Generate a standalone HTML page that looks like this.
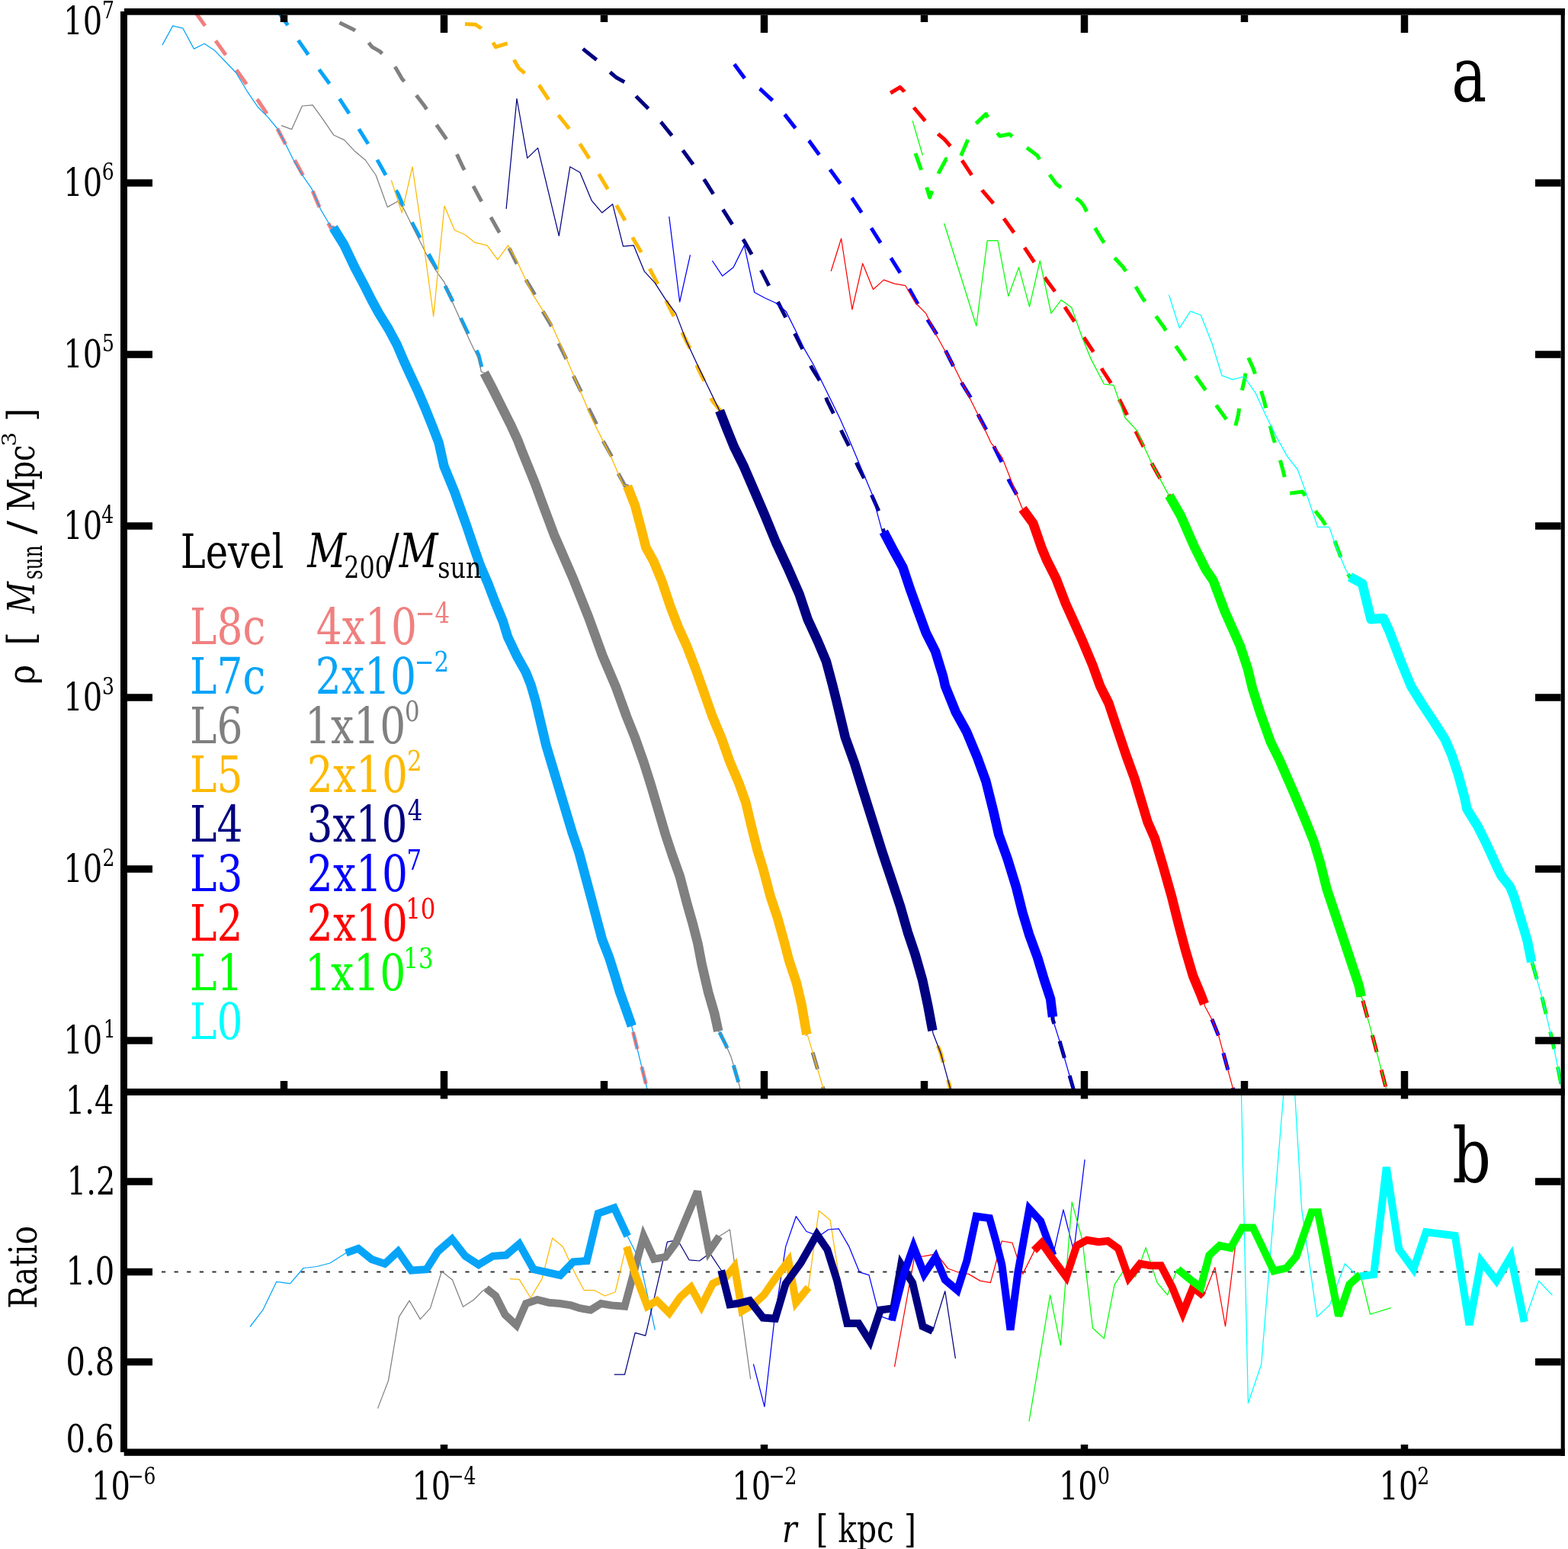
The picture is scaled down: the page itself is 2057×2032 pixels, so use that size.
<!DOCTYPE html><html><head><meta charset="utf-8"><style>html,body{margin:0;padding:0;background:#fff}svg{display:block}</style></head><body><svg width="2057" height="2032" viewBox="0 0 2057 2032">
<rect width="2057" height="2032" fill="#fff"/>
<defs><clipPath id="ca"><rect x="162" y="15" width="1888" height="1417"/></clipPath><clipPath id="cb"><rect x="162" y="1432" width="1888" height="473"/></clipPath></defs>
<g clip-path="url(#ca)" stroke-linejoin="round">
<polyline points="252.8,11.0 283.3,54.0 311.0,93.0 338.6,132.0 352.0,152.0 364.0,169.0 375.0,190.0 386.0,209.0 398.0,231.0 409.0,248.0 420.0,274.0 434.0,299.0 437.3,298.6 451.4,321.4 465.6,351.3 478.1,374.9 487.6,393.7 497.0,411.0 509.6,431.4 520.6,451.9 530.0,473.9 539.4,494.3 548.9,514.7 558.3,536.7 567.7,560.3 575.6,580.7 582.4,611.4 596.6,646.0 606.0,672.7 612.2,690.0 620.6,715.0 630.0,742.0 640.0,765.0 649.5,790.0 659.8,815.0 666.0,835.4 678.0,860.6 689.7,881.5 696.4,898.3 702.7,920.0 711.8,958.3 716.4,977.7 727.7,1015.4 739.0,1053.1 750.3,1090.9 759.8,1119.1 767.3,1147.4 774.9,1175.7 782.4,1204.0 789.9,1232.3 799.4,1256.8 806.5,1279.4 813.1,1301.4 821.4,1324.6 828.9,1346.0" fill="none" stroke="#F08080" stroke-width="5" stroke-dasharray="23 24" stroke-dashoffset="-5"/>
<polyline points="828.9,1346.0 828.9,1347.0 848.7,1427.3 851.0,1445.0" fill="none" stroke="#F08080" stroke-width="5" stroke-dasharray="23 24" stroke-dashoffset="39.0"/>
<polyline points="362.2,11.0 405.2,72.9 432.9,110.6 459.3,150.9 484.4,191.1 507.0,231.3 522.1,254.0 529.7,271.6 552.3,314.3 575.0,357.0 595.0,397.3 615.2,440.0 627.7,465.0 632.0,482.0 635.3,489.0 646.3,510.0 658.9,535.2 669.9,557.2 679.3,577.6 684.0,590.0 701.7,633.6 711.8,661.2 726.9,701.4 752.0,759.3 772.1,809.6 790.4,860.0 808.0,901.4 822.0,940.0 833.3,968.3 844.6,1000.3 854.1,1030.5 863.5,1062.6 872.9,1094.6 882.3,1122.9 891.8,1149.3 901.2,1185.1 908.7,1211.5 915.5,1238.0 920.5,1264.3 929.1,1301.4 937.3,1329.6 942.3,1352.8" fill="none" stroke="#06A4F8" stroke-width="5" stroke-dasharray="23 24" stroke-dashoffset="-4"/>
<polyline points="942.3,1352.8 944.0,1354.4 952.3,1371.0 958.9,1385.9 970.5,1425.6 973.0,1445.0" fill="none" stroke="#06A4F8" stroke-width="5" stroke-dasharray="23 24" stroke-dashoffset="44.7"/>
<polyline points="445.4,29.7 464.3,39.0 481.9,54.0 488.2,61.6 498.3,67.4 517.1,85.5 527.2,103.1 544.8,123.2 557.3,139.6 572.4,163.4 583.8,179.8 598.8,201.2 607.6,220.0 620.2,242.6 630.2,261.5 642.7,282.9 654.0,303.0 666.6,323.0 676.7,343.2 689.3,365.9 700.6,384.7 710.6,406.0 722.0,425.0 732.0,448.8 742.0,469.0 752.0,492.7 762.0,512.9 772.1,535.5 782.2,555.6 791.0,578.2 802.3,598.4 811.1,621.0 819.9,637.3 823.1,637.7 833.0,663.0 841.8,696.0 847.3,718.0 857.2,735.7 868.2,762.1 879.2,795.1 890.2,823.7 901.2,847.9 912.2,876.5 923.2,907.3 934.6,940.0 946.5,968.3 957.8,1000.3 969.1,1026.7 978.5,1053.1 986.0,1085.2 993.6,1115.4 1001.1,1139.9 1010.6,1175.7 1020.0,1204.0 1029.4,1237.9 1035.1,1260.0 1045.0,1289.8 1051.6,1318.0 1058.3,1357.0" fill="none" stroke="#808080" stroke-width="5" stroke-dasharray="23 24" stroke-dashoffset="0"/>
<polyline points="1058.3,1357.0 1059.9,1359.4 1079.8,1427.3 1083.0,1445.0" fill="none" stroke="#808080" stroke-width="5" stroke-dasharray="23 24" stroke-dashoffset="22.1"/>
<polyline points="610.0,31.4 624.0,32.2 631.4,37.2 646.5,55.3 650.3,61.6 666.6,56.6 675.4,80.5 680.5,89.3 689.3,96.8 708.0,113.0 720.7,132.0 733.3,152.0 748.4,171.0 762.2,191.0 773.5,208.7 787.3,231.3 798.6,250.2 810.0,271.6 821.3,291.7 831.3,314.3 842.6,333.2 854.0,355.8 864.0,374.7 875.3,397.3 885.4,417.4 896.7,440.0 905.5,457.6 915.4,482.7 925.4,502.8 934.2,525.4 945.5,539.3 944.1,538.7 954.0,564.0 962.9,586.0 976.0,612.4 989.3,643.2 1002.5,674.0 1017.9,711.5 1033.3,744.5 1048.7,779.7 1059.7,812.7 1072.9,841.3 1083.9,867.7 1092.0,898.0 1097.5,920.0 1108.9,967.5 1121.0,1001.2 1133.0,1039.8 1145.1,1078.3 1157.1,1116.9 1169.2,1153.0 1181.2,1189.2 1190.8,1222.9 1200.5,1251.8 1210.1,1285.5 1217.3,1319.3 1223.4,1352.0" fill="none" stroke="#FDB900" stroke-width="5" stroke-dasharray="23 24" stroke-dashoffset="0"/>
<polyline points="1223.4,1352.0 1224.0,1355.4 1233.9,1380.9 1246.6,1427.6 1249.0,1445.0" fill="none" stroke="#FDB900" stroke-width="5" stroke-dasharray="23 24" stroke-dashoffset="25.9"/>
<polyline points="764.7,64.1 783.6,79.2 801.2,95.5 808.7,101.8 820.0,108.1 835.1,127.0 851.4,143.3 867.8,161.0 882.9,179.8 896.7,198.6 910.5,217.5 924.4,236.4 937.0,256.5 949.5,276.6 962.1,296.7 975.9,315.6 987.2,335.7 999.8,357.0 1009.9,377.2 1022.4,399.8 1032.5,419.9 1043.8,440.0 1053.9,460.2 1065.0,482.7 1077.6,502.8 1085.0,525.4 1095.0,545.5 1105.2,568.2 1115.3,588.3 1125.3,611.0 1135.4,631.0 1145.4,653.7 1154.3,673.8 1159.3,697.7 1159.3,697.7 1171.9,721.6 1184.4,744.2 1194.5,774.4 1204.5,802.0 1214.6,829.7 1227.2,854.8 1237.2,887.5 1240.0,900.0 1253.7,933.9 1267.8,959.4 1282.0,993.4 1293.3,1024.5 1303.2,1064.1 1310.3,1095.2 1321.6,1126.3 1332.9,1163.1 1341.4,1197.0 1349.9,1225.3 1361.2,1256.4 1369.7,1284.7 1378.1,1310.2 1381.0,1334.0" fill="none" stroke="#000080" stroke-width="5" stroke-dasharray="23 24" stroke-dashoffset="0"/>
<polyline points="1381.0,1334.0 1381.0,1337.0 1389.5,1363.9 1407.9,1427.6 1411.0,1445.0" fill="none" stroke="#000080" stroke-width="5" stroke-dasharray="23 24" stroke-dashoffset="13.8"/>
<polyline points="963.3,84.2 977.2,103.1 997.3,116.9 1013.6,132.0 1030.0,150.9 1043.8,168.5 1061.4,184.8 1075.2,203.7 1089.0,222.5 1102.8,241.4 1117.9,260.2 1130.5,279.1 1143.0,299.2 1155.6,319.3 1169.4,339.5 1182.0,359.6 1193.3,379.7 1204.6,399.8 1217.2,419.9 1229.8,440.0 1241.0,461.0 1251.0,481.0 1262.0,503.0 1275.0,524.0 1284.0,545.5 1295.0,566.0 1305.0,588.0 1315.0,608.0 1324.0,631.0 1335.0,651.0 1341.5,667.5 1341.5,667.5 1355.3,686.4 1366.6,719.0 1372.9,734.1 1385.5,759.3 1398.1,792.0 1410.6,819.6 1420.7,842.3 1433.3,872.4 1443.2,900.0 1454.5,922.6 1465.8,956.6 1477.2,990.5 1488.5,1021.6 1497.0,1049.9 1505.5,1078.2 1515.0,1100.0 1526.0,1137.0 1537.0,1176.0 1546.0,1212.0 1555.0,1246.0 1565.0,1280.0 1575.0,1304.0 1580.0,1317.0" fill="none" stroke="#0000FF" stroke-width="5" stroke-dasharray="23 24" stroke-dashoffset="0"/>
<polyline points="1580.0,1317.0 1580.6,1320.0 1590.5,1338.5 1599.0,1359.7 1617.4,1427.6 1620.0,1445.0" fill="none" stroke="#0000FF" stroke-width="5" stroke-dasharray="23 24" stroke-dashoffset="24.6"/>
<polyline points="1168.2,122.0 1180.8,114.4 1185.8,119.4 1199.6,142.0 1214.7,159.7 1231.0,176.0 1238.6,182.3 1247.4,192.4 1262.5,211.2 1275.0,230.0 1288.9,250.2 1304.0,267.8 1317.8,287.9 1330.4,305.5 1345.4,326.9 1358.0,345.7 1371.9,365.9 1385.7,384.7 1398.2,404.8 1410.8,423.7 1423.4,445.0 1436.0,464.0 1446.0,485.0 1458.4,504.0 1469.7,526.7 1479.8,546.8 1491.1,568.2 1501.2,588.3 1512.5,610.9 1523.8,631.0 1533.8,650.0 1533.8,650.0 1548.9,676.3 1566.5,716.5 1581.6,746.7 1591.7,761.8 1606.8,802.0 1626.9,847.3 1636.9,877.5 1643.0,903.0 1652.8,933.9 1666.9,973.5 1678.2,996.2 1698.0,1041.4 1712.2,1075.4 1723.5,1103.7 1732.0,1132.0 1740.5,1165.9 1749.0,1191.4 1760.3,1225.3 1771.6,1259.3 1782.9,1293.2 1785.7,1307.4" fill="none" stroke="#FF0000" stroke-width="5" stroke-dasharray="23 24" stroke-dashoffset="0"/>
<polyline points="1785.7,1307.4 1787.2,1310.2 1802.7,1366.8 1818.3,1427.6 1821.0,1445.0" fill="none" stroke="#FF0000" stroke-width="5" stroke-dasharray="23 24" stroke-dashoffset="41.4"/>
<polyline points="1200.9,201.2 1208.4,222.5 1219.7,259.0 1231.0,227.6 1241.1,208.7 1250.0,214.0 1258.7,208.7 1267.5,188.6 1276.3,166.0 1293.4,149.6 1306.5,172.2 1311.5,178.5 1324.1,176.0 1341.7,189.8 1360.5,203.7 1373.1,223.8 1385.7,241.4 1407.0,256.5 1417.1,264.0 1422.1,270.3 1433.5,294.2 1444.8,313.0 1458.6,334.4 1473.7,350.8 1487.5,372.1 1498.8,391.0 1513.9,411.1 1526.5,428.7 1539.7,450.0 1552.3,468.4 1565.0,488.0 1577.7,506.3 1592.9,528.0 1605.5,545.5 1619.3,564.4 1624.4,544.3 1628.1,517.9 1633.2,495.3 1637.0,467.6 1643.2,481.4 1652.0,505.3 1658.3,525.4 1664.6,551.8 1669.6,572.0 1677.2,595.8 1683.5,618.5 1690.2,647.4 1708.6,644.9 1722.4,666.2 1735.0,682.6 1748.8,704.0 1756.4,724.0 1765.2,748.0 1770.8,756.8 1770.8,756.8 1787.1,765.6 1796.0,802.1 1798.5,812.2 1814.8,810.9 1822.3,827.3 1838.7,870.0 1851.0,900.0 1865.0,922.6 1881.9,948.1 1896.1,970.7 1904.5,990.5 1913.0,1016.0 1921.5,1047.1 1924.4,1061.2 1938.5,1083.9 1949.8,1106.5 1964.0,1137.6 1969.6,1148.9 1980.9,1163.1 1986.6,1177.2 1995.1,1205.5 2003.6,1233.8 2009.2,1262.1" fill="none" stroke="#00FF00" stroke-width="5" stroke-dasharray="23 24" stroke-dashoffset="0"/>
<polyline points="2009.2,1262.1 2010.6,1264.9 2023.4,1310.2 2037.5,1369.6 2048.8,1426.2 2051.0,1440.0" fill="none" stroke="#00FF00" stroke-width="5" stroke-dasharray="23 24" stroke-dashoffset="46.2"/>
<polyline points="212.9,59.1 226.7,33.9 240.0,37.2 254.4,64.1 268.2,57.3 282.0,66.6 295.8,81.0 309.7,95.5 324.8,120.7 338.6,140.8 351.2,153.4 363.7,168.5 375.0,189.8 385.1,210.0 397.7,231.3 409.0,247.7 420.3,274.1 433.6,296.7 437.3,298.6 451.4,321.4 465.6,351.3 478.1,374.9 487.6,393.7 497.0,411.0 509.6,431.4 520.6,451.9 530.0,473.9 539.4,494.3 548.9,514.7 558.3,536.7 567.7,560.3 575.6,580.7 582.4,611.4 596.6,646.0 606.0,672.7 612.2,690.0 620.6,715.0 630.0,742.0 640.0,765.0 649.5,790.0 659.8,815.0 666.0,835.4 678.0,860.6 689.7,881.5 696.4,898.3 702.7,920.0 711.8,958.3 716.4,977.7 727.7,1015.4 739.0,1053.1 750.3,1090.9 759.8,1119.1 767.3,1147.4 774.9,1175.7 782.4,1204.0 789.9,1232.3 799.4,1256.8 806.5,1279.4 813.1,1301.4 821.4,1324.6 828.9,1346.0 828.9,1347.0 848.7,1427.3 851.0,1445.0" fill="none" stroke="#06A4F8" stroke-width="1.25" />
<polyline points="368.8,164.7 382.6,169.7 396.4,139.0 410.2,137.8 424.1,157.2 437.9,177.3 451.7,183.6 465.6,198.6 479.4,210.0 493.2,230.0 508.3,271.6 522.1,264.0 529.7,274.0 547.3,309.3 562.4,339.5 575.0,359.6 582.5,369.6 595.0,399.8 607.6,427.5 617.7,450.0 627.7,470.2 631.3,487.7 635.3,489.0 646.3,510.0 658.9,535.2 669.9,557.2 679.3,577.6 684.0,590.0 701.7,633.6 711.8,661.2 726.9,701.4 752.0,759.3 772.1,809.6 790.4,860.0 808.0,901.4 822.0,940.0 833.3,968.3 844.6,1000.3 854.1,1030.5 863.5,1062.6 872.9,1094.6 882.3,1122.9 891.8,1149.3 901.2,1185.1 908.7,1211.5 915.5,1238.0 920.5,1264.3 929.1,1301.4 937.3,1329.6 942.3,1352.8 944.0,1354.4 952.3,1371.0 958.9,1385.9 970.5,1425.6 973.0,1445.0" fill="none" stroke="#808080" stroke-width="1.25" />
<polyline points="513.3,236.4 527.2,279.1 541.0,218.8 556.1,321.9 568.7,414.9 583.0,270.3 596.3,301.7 610.2,308.0 622.7,318.1 639.0,321.9 652.8,340.7 666.6,321.9 678.0,342.0 698.0,384.7 710.6,404.8 723.2,425.0 734.0,449.0 777.2,550.6 802.3,600.9 817.4,636.0 823.1,637.7 833.0,663.0 841.8,696.0 847.3,718.0 857.2,735.7 868.2,762.1 879.2,795.1 890.2,823.7 901.2,847.9 912.2,876.5 923.2,907.3 934.6,940.0 946.5,968.3 957.8,1000.3 969.1,1026.7 978.5,1053.1 986.0,1085.2 993.6,1115.4 1001.1,1139.9 1010.6,1175.7 1020.0,1204.0 1029.4,1237.9 1035.1,1260.0 1045.0,1289.8 1051.6,1318.0 1058.3,1357.0 1059.9,1359.4 1079.8,1427.3 1083.0,1445.0" fill="none" stroke="#FDB900" stroke-width="1.25" />
<polyline points="664.1,274.0 678.0,129.5 691.8,207.4 705.6,194.1 733.3,309.3 747.8,218.8 760.9,226.3 776.0,262.8 789.8,279.1 803.7,267.8 817.5,323.1 831.3,321.9 845.2,355.8 859.0,370.9 872.8,392.3 886.6,411.1 900.5,447.6 915.6,480.0 943.0,536.7 944.1,538.7 954.0,564.0 962.9,586.0 976.0,612.4 989.3,643.2 1002.5,674.0 1017.9,711.5 1033.3,744.5 1048.7,779.7 1059.7,812.7 1072.9,841.3 1083.9,867.7 1092.0,898.0 1097.5,920.0 1108.9,967.5 1121.0,1001.2 1133.0,1039.8 1145.1,1078.3 1157.1,1116.9 1169.2,1153.0 1181.2,1189.2 1190.8,1222.9 1200.5,1251.8 1210.1,1285.5 1217.3,1319.3 1223.4,1352.0 1224.0,1355.4 1233.9,1380.9 1246.6,1427.6 1249.0,1445.0" fill="none" stroke="#000080" stroke-width="1.25" />
<polyline points="877.8,284.1 891.7,396.0 905.5,334.4" fill="none" stroke="#0000FF" stroke-width="1.25" />
<polyline points="934.4,342.0 947.8,362.1 962.1,350.8 976.4,321.9 989.7,383.5 1003.6,391.0 1017.4,397.3 1031.2,408.6 1045.0,436.3 1055.1,457.6 1067.0,478.0 1101.4,548.0 1111.5,570.7 1144.2,648.6 1156.8,695.2 1159.3,697.7 1171.9,721.6 1184.4,744.2 1194.5,774.4 1204.5,802.0 1214.6,829.7 1227.2,854.8 1237.2,887.5 1240.0,900.0 1253.7,933.9 1267.8,959.4 1282.0,993.4 1293.3,1024.5 1303.2,1064.1 1310.3,1095.2 1321.6,1126.3 1332.9,1163.1 1341.4,1197.0 1349.9,1225.3 1361.2,1256.4 1369.7,1284.7 1378.1,1310.2 1381.0,1334.0 1381.0,1337.0 1389.5,1363.9 1407.9,1427.6 1411.0,1445.0" fill="none" stroke="#0000FF" stroke-width="1.25" />
<polyline points="1090.2,355.8 1103.6,313.0 1117.9,406.0 1131.7,345.7 1145.5,379.7 1159.4,367.1 1173.2,372.1 1187.8,374.7 1200.9,397.3 1214.7,411.1 1228.5,440.0 1241.1,462.7 1251.2,480.0 1282.5,543.0 1300.0,580.8 1310.0,593.3 1315.0,600.9 1340.2,665.0 1341.5,667.5 1355.3,686.4 1366.6,719.0 1372.9,734.1 1385.5,759.3 1398.1,792.0 1410.6,819.6 1420.7,842.3 1433.3,872.4 1443.2,900.0 1454.5,922.6 1465.8,956.6 1477.2,990.5 1488.5,1021.6 1497.0,1049.9 1505.5,1078.2 1515.0,1100.0 1526.0,1137.0 1537.0,1176.0 1546.0,1212.0 1555.0,1246.0 1565.0,1280.0 1575.0,1304.0 1580.0,1317.0 1580.6,1320.0 1590.5,1338.5 1599.0,1359.7 1617.4,1427.6 1620.0,1445.0" fill="none" stroke="#FF0000" stroke-width="1.25" />
<polyline points="1197.1,158.4 1210.4,203.7" fill="none" stroke="#00FF00" stroke-width="1.25" />
<polyline points="1238.6,293.0 1280.8,427.5 1295.2,315.6 1309.0,315.6 1322.8,388.5 1336.6,350.8 1350.5,402.3 1364.3,342.0 1378.9,411.1 1392.0,393.5 1405.8,403.6 1419.6,442.5 1430.8,470.1 1448.4,504.0 1460.9,505.3 1476.0,548.0 1491.1,564.4 1511.2,608.4 1531.3,646.1 1533.8,650.0 1548.9,676.3 1566.5,716.5 1581.6,746.7 1591.7,761.8 1606.8,802.0 1626.9,847.3 1636.9,877.5 1643.0,903.0 1652.8,933.9 1666.9,973.5 1678.2,996.2 1698.0,1041.4 1712.2,1075.4 1723.5,1103.7 1732.0,1132.0 1740.5,1165.9 1749.0,1191.4 1760.3,1225.3 1771.6,1259.3 1782.9,1293.2 1785.7,1307.4 1787.2,1310.2 1802.7,1366.8 1818.3,1427.6 1821.0,1445.0" fill="none" stroke="#00FF00" stroke-width="1.25" />
<polyline points="1533.5,386.8 1547.3,430.4 1561.6,408.4 1575.4,413.5 1589.8,450.0 1603.0,492.7 1616.8,497.8 1631.9,494.0 1647.0,515.4 1662.1,548.0 1674.6,573.2 1688.5,598.4 1702.3,616.0 1712.4,643.6 1728.7,691.4 1743.8,691.4 1752.6,716.5 1765.2,746.7 1770.0,755.0 1770.8,756.8 1787.1,765.6 1796.0,802.1 1798.5,812.2 1814.8,810.9 1822.3,827.3 1838.7,870.0 1851.0,900.0 1865.0,922.6 1881.9,948.1 1896.1,970.7 1904.5,990.5 1913.0,1016.0 1921.5,1047.1 1924.4,1061.2 1938.5,1083.9 1949.8,1106.5 1964.0,1137.6 1969.6,1148.9 1980.9,1163.1 1986.6,1177.2 1995.1,1205.5 2003.6,1233.8 2009.2,1262.1 2010.6,1264.9 2023.4,1310.2 2037.5,1369.6 2048.8,1426.2 2051.0,1440.0" fill="none" stroke="#00FFFF" stroke-width="1.25" />
<polyline points="437.3,298.6 451.4,321.4 465.6,351.3 478.1,374.9 487.6,393.7 497.0,411.0 509.6,431.4 520.6,451.9 530.0,473.9 539.4,494.3 548.9,514.7 558.3,536.7 567.7,560.3 575.6,580.7 582.4,611.4 596.6,646.0 606.0,672.7 612.2,690.0 620.6,715.0 630.0,742.0 640.0,765.0 649.5,790.0 659.8,815.0 666.0,835.4 678.0,860.6 689.7,881.5 696.4,898.3 702.7,920.0 711.8,958.3 716.4,977.7 727.7,1015.4 739.0,1053.1 750.3,1090.9 759.8,1119.1 767.3,1147.4 774.9,1175.7 782.4,1204.0 789.9,1232.3 799.4,1256.8 806.5,1279.4 813.1,1301.4 821.4,1324.6 828.9,1346.0" fill="none" stroke="#06A4F8" stroke-width="12.5" stroke-linejoin="round"/>
<polyline points="635.3,489.0 646.3,510.0 658.9,535.2 669.9,557.2 679.3,577.6 684.0,590.0 701.7,633.6 711.8,661.2 726.9,701.4 752.0,759.3 772.1,809.6 790.4,860.0 808.0,901.4 822.0,940.0 833.3,968.3 844.6,1000.3 854.1,1030.5 863.5,1062.6 872.9,1094.6 882.3,1122.9 891.8,1149.3 901.2,1185.1 908.7,1211.5 915.5,1238.0 920.5,1264.3 929.1,1301.4 937.3,1329.6 942.3,1352.8" fill="none" stroke="#808080" stroke-width="12.5" stroke-linejoin="round"/>
<polyline points="823.1,637.7 833.0,663.0 841.8,696.0 847.3,718.0 857.2,735.7 868.2,762.1 879.2,795.1 890.2,823.7 901.2,847.9 912.2,876.5 923.2,907.3 934.6,940.0 946.5,968.3 957.8,1000.3 969.1,1026.7 978.5,1053.1 986.0,1085.2 993.6,1115.4 1001.1,1139.9 1010.6,1175.7 1020.0,1204.0 1029.4,1237.9 1035.1,1260.0 1045.0,1289.8 1051.6,1318.0 1058.3,1357.0" fill="none" stroke="#FDB900" stroke-width="12.5" stroke-linejoin="round"/>
<polyline points="944.1,538.7 954.0,564.0 962.9,586.0 976.0,612.4 989.3,643.2 1002.5,674.0 1017.9,711.5 1033.3,744.5 1048.7,779.7 1059.7,812.7 1072.9,841.3 1083.9,867.7 1092.0,898.0 1097.5,920.0 1108.9,967.5 1121.0,1001.2 1133.0,1039.8 1145.1,1078.3 1157.1,1116.9 1169.2,1153.0 1181.2,1189.2 1190.8,1222.9 1200.5,1251.8 1210.1,1285.5 1217.3,1319.3 1223.4,1352.0" fill="none" stroke="#000080" stroke-width="12.5" stroke-linejoin="round"/>
<polyline points="1159.3,697.7 1171.9,721.6 1184.4,744.2 1194.5,774.4 1204.5,802.0 1214.6,829.7 1227.2,854.8 1237.2,887.5 1240.0,900.0 1253.7,933.9 1267.8,959.4 1282.0,993.4 1293.3,1024.5 1303.2,1064.1 1310.3,1095.2 1321.6,1126.3 1332.9,1163.1 1341.4,1197.0 1349.9,1225.3 1361.2,1256.4 1369.7,1284.7 1378.1,1310.2 1381.0,1334.0" fill="none" stroke="#0000FF" stroke-width="12.5" stroke-linejoin="round"/>
<polyline points="1341.5,667.5 1355.3,686.4 1366.6,719.0 1372.9,734.1 1385.5,759.3 1398.1,792.0 1410.6,819.6 1420.7,842.3 1433.3,872.4 1443.2,900.0 1454.5,922.6 1465.8,956.6 1477.2,990.5 1488.5,1021.6 1497.0,1049.9 1505.5,1078.2 1515.0,1100.0 1526.0,1137.0 1537.0,1176.0 1546.0,1212.0 1555.0,1246.0 1565.0,1280.0 1575.0,1304.0 1580.0,1317.0" fill="none" stroke="#FF0000" stroke-width="12.5" stroke-linejoin="round"/>
<polyline points="1533.8,650.0 1548.9,676.3 1566.5,716.5 1581.6,746.7 1591.7,761.8 1606.8,802.0 1626.9,847.3 1636.9,877.5 1643.0,903.0 1652.8,933.9 1666.9,973.5 1678.2,996.2 1698.0,1041.4 1712.2,1075.4 1723.5,1103.7 1732.0,1132.0 1740.5,1165.9 1749.0,1191.4 1760.3,1225.3 1771.6,1259.3 1782.9,1293.2 1785.7,1307.4" fill="none" stroke="#00FF00" stroke-width="12.5" stroke-linejoin="round"/>
<polyline points="1770.8,756.8 1787.1,765.6 1796.0,802.1 1798.5,812.2 1814.8,810.9 1822.3,827.3 1838.7,870.0 1851.0,900.0 1865.0,922.6 1881.9,948.1 1896.1,970.7 1904.5,990.5 1913.0,1016.0 1921.5,1047.1 1924.4,1061.2 1938.5,1083.9 1949.8,1106.5 1964.0,1137.6 1969.6,1148.9 1980.9,1163.1 1986.6,1177.2 1995.1,1205.5 2003.6,1233.8 2009.2,1262.1" fill="none" stroke="#00FFFF" stroke-width="12.5" stroke-linejoin="round"/>
</g>
<g clip-path="url(#cb)">
<line x1="212" y1="1668.5" x2="2005" y2="1668.5" stroke="#333" stroke-width="2" stroke-dasharray="5.2 11.4"/>
<polyline points="328.0,1740.5 345.1,1718.1 362.7,1681.4 380.6,1683.9 398.0,1663.5 415.4,1661.5 432.8,1657.0 451.4,1645.3 453.9,1643.6 453.9,1643.6 470.0,1637.9 487.5,1652.0 504.8,1657.8 522.2,1641.6 539.6,1666.5 559.5,1665.2 574.4,1641.6 593.0,1625.5 610.4,1647.8 627.8,1659.0 646.5,1647.8 663.9,1646.6 681.2,1631.7 699.9,1665.2 717.3,1669.0 735.0,1673.0 752.0,1655.3 769.8,1654.0 784.7,1591.9 805.8,1584.5 823.2,1621.7 823.2,1621.7 839.4,1654.0 859.3,1744.7" fill="none" stroke="#06A4F8" stroke-width="1.25" stroke-linejoin="round"/>
<polyline points="495.5,1847.6 509.5,1811.1 523.5,1727.3 537.1,1706.2 551.3,1730.6 564.5,1716.1 579.4,1667.7 593.5,1678.9 607.5,1714.2 621.6,1705.0 632.8,1693.8 637.8,1690.1 637.8,1690.1 650.2,1700.0 662.6,1724.8 677.5,1738.5 690.0,1710.0 704.8,1705.0 719.8,1708.7 734.7,1710.0 749.6,1712.4 760.0,1716.0 774.8,1718.6 788.4,1710.0 802.1,1712.4 819.5,1713.7 844.3,1621.7 858.0,1651.6 872.9,1649.0 886.6,1630.4 915.0,1563.0 930.1,1641.6 943.7,1621.7 943.7,1621.7 957.4,1613.0 984.7,1809.3" fill="none" stroke="#808080" stroke-width="1.25" stroke-linejoin="round"/>
<polyline points="668.8,1677.6 681.2,1678.4 696.1,1702.5 711.0,1677.6 724.7,1624.2 738.4,1635.4 753.7,1669.0 766.1,1692.5 779.8,1692.5 793.4,1700.0 807.1,1695.0 820.7,1637.9 822.0,1635.4 822.0,1635.4 833.2,1671.4 849.3,1713.7 861.7,1706.2 877.9,1722.4 892.8,1701.2 906.5,1688.8 920.1,1713.7 935.0,1683.9 951.2,1676.4 963.6,1661.5 973.5,1719.9 988.4,1711.2 1002.1,1698.8 1015.8,1678.9 1034.4,1654.0 1044.3,1708.7 1060.5,1688.8 1060.5,1688.8 1074.2,1588.2 1089.1,1600.6 1101.5,1680.1" fill="none" stroke="#FDB900" stroke-width="1.25" stroke-linejoin="round"/>
<polyline points="805.8,1803.1 819.5,1803.1 833.2,1748.4 846.8,1752.2 875.4,1629.2 889.1,1626.7 904.0,1652.8 917.6,1654.0 931.3,1644.1 946.2,1666.5 946.2,1666.5 957.4,1711.2 967.3,1710.0 983.5,1706.2 1000.9,1728.6 1017.0,1729.8 1030.7,1683.9 1050.6,1656.5 1071.7,1619.3 1085.3,1639.1 1097.8,1678.9 1111.4,1736.0 1126.3,1736.0 1141.2,1759.6 1154.9,1718.6 1172.3,1716.1 1182.2,1659.0 1197.1,1682.6 1210.5,1740.0 1223.6,1746.0 1223.6,1746.0 1239.8,1693.8 1253.4,1782.0" fill="none" stroke="#000080" stroke-width="1.25" stroke-linejoin="round"/>
<polyline points="988.4,1789.4 1002.9,1845.3 1015.8,1732.3 1030.7,1635.4 1044.3,1595.7 1058.0,1615.5 1074.2,1621.7 1086.6,1613.0 1100.2,1611.8 1113.9,1635.4 1127.6,1668.9 1140.0,1672.7 1153.7,1726.1 1167.3,1731.1 1169.8,1732.3 1169.8,1732.3 1184.7,1673.9 1198.4,1635.4 1212.4,1671.4 1227.3,1649.0 1239.8,1678.9 1255.9,1692.5 1268.3,1654.0 1280.7,1595.7 1298.1,1598.1 1306.8,1629.2 1314.3,1659.0 1325.5,1744.7 1335.4,1668.9 1350.3,1585.7 1365.2,1601.9 1381.4,1646.6 1381.4,1646.6 1395.0,1587.0 1408.7,1641.6 1423.1,1521.1" fill="none" stroke="#0000FF" stroke-width="1.25" stroke-linejoin="round"/>
<polyline points="1173.5,1793.2 1199.6,1649.0 1212.4,1647.8 1228.6,1644.8 1243.5,1664.0 1257.1,1669.0 1270.8,1671.4 1285.7,1680.1 1299.4,1682.6 1314.3,1628.0 1328.0,1630.4 1341.6,1671.4 1356.5,1641.6 1356.5,1640.4 1366.5,1630.4 1381.4,1651.6 1398.8,1675.2 1412.4,1634.2 1426.1,1626.7 1441.0,1629.2 1453.4,1628.0 1467.1,1637.9 1480.7,1676.4 1495.7,1657.8 1509.3,1660.2 1523.0,1660.2 1537.9,1688.8 1551.6,1722.4 1565.2,1688.8 1578.9,1700.0 1578.9,1700.0 1593.8,1662.7 1607.5,1739.8 1622.4,1619.3" fill="none" stroke="#FF0000" stroke-width="1.25" stroke-linejoin="round"/>
<polyline points="1350.0,1864.6 1377.6,1698.8 1391.3,1764.6 1406.2,1577.0 1419.9,1626.7 1433.5,1742.2 1448.4,1755.9 1462.1,1685.1 1475.8,1664.0 1489.4,1675.2 1503.1,1636.6 1518.0,1682.6 1531.7,1698.8 1544.1,1665.2 1545.3,1665.2 1560.2,1677.6 1575.2,1688.8 1586.3,1646.6 1600.0,1634.0 1614.5,1637.0 1629.6,1610.4 1643.8,1610.4 1671.0,1667.2 1687.5,1663.6 1700.5,1648.2 1720.6,1590.3 1728.9,1590.3 1756.1,1726.3 1770.3,1684.9 1784.5,1671.9 1784.5,1671.9 1786.8,1680.2 1797.5,1724.0 1824.7,1715.7" fill="none" stroke="#00FF00" stroke-width="1.25" stroke-linejoin="round"/>
<polyline points="1626.0,1380.0 1628.4,1433.0 1637.4,1840.6 1654.7,1789.7 1684.0,1433.0 1691.0,1380.0 1698.6,1433.0 1707.6,1585.6 1727.7,1727.5 1744.3,1712.1 1764.4,1657.7 1779.8,1673.0 1784.5,1674.3 1784.5,1674.3 1802.2,1671.9 1818.8,1531.2 1835.3,1638.8 1854.3,1664.8 1870.8,1616.3 1908.7,1621.0 1927.6,1738.1 1943.0,1654.2 1963.1,1680.2 1982.0,1648.2 1999.7,1734.0 1999.7,1734.0 2018.6,1680.2 2036.4,1699.1" fill="none" stroke="#00FFFF" stroke-width="1.25" stroke-linejoin="round"/>
<polyline points="453.9,1643.6 470.0,1637.9 487.5,1652.0 504.8,1657.8 522.2,1641.6 539.6,1666.5 559.5,1665.2 574.4,1641.6 593.0,1625.5 610.4,1647.8 627.8,1659.0 646.5,1647.8 663.9,1646.6 681.2,1631.7 699.9,1665.2 717.3,1669.0 735.0,1673.0 752.0,1655.3 769.8,1654.0 784.7,1591.9 805.8,1584.5 823.2,1621.7" fill="none" stroke="#06A4F8" stroke-width="10" stroke-linejoin="miter" stroke-miterlimit="3"/>
<polyline points="637.8,1690.1 650.2,1700.0 662.6,1724.8 677.5,1738.5 690.0,1710.0 704.8,1705.0 719.8,1708.7 734.7,1710.0 749.6,1712.4 760.0,1716.0 774.8,1718.6 788.4,1710.0 802.1,1712.4 819.5,1713.7 844.3,1621.7 858.0,1651.6 872.9,1649.0 886.6,1630.4 915.0,1563.0 930.1,1641.6 943.7,1621.7" fill="none" stroke="#808080" stroke-width="10" stroke-linejoin="miter" stroke-miterlimit="3"/>
<polyline points="822.0,1635.4 833.2,1671.4 849.3,1713.7 861.7,1706.2 877.9,1722.4 892.8,1701.2 906.5,1688.8 920.1,1713.7 935.0,1683.9 951.2,1676.4 963.6,1661.5 973.5,1719.9 988.4,1711.2 1002.1,1698.8 1015.8,1678.9 1034.4,1654.0 1044.3,1708.7 1060.5,1688.8" fill="none" stroke="#FDB900" stroke-width="10" stroke-linejoin="miter" stroke-miterlimit="3"/>
<polyline points="946.2,1666.5 957.4,1711.2 967.3,1710.0 983.5,1706.2 1000.9,1728.6 1017.0,1729.8 1030.7,1683.9 1050.6,1656.5 1071.7,1619.3 1085.3,1639.1 1097.8,1678.9 1111.4,1736.0 1126.3,1736.0 1141.2,1759.6 1154.9,1718.6 1172.3,1716.1 1182.2,1659.0 1197.1,1682.6 1210.5,1740.0 1223.6,1746.0" fill="none" stroke="#000080" stroke-width="10" stroke-linejoin="miter" stroke-miterlimit="3"/>
<polyline points="1169.8,1732.3 1184.7,1673.9 1198.4,1635.4 1212.4,1671.4 1227.3,1649.0 1239.8,1678.9 1255.9,1692.5 1268.3,1654.0 1280.7,1595.7 1298.1,1598.1 1306.8,1629.2 1314.3,1659.0 1325.5,1744.7 1335.4,1668.9 1350.3,1585.7 1365.2,1601.9 1381.4,1646.6" fill="none" stroke="#0000FF" stroke-width="10" stroke-linejoin="miter" stroke-miterlimit="3"/>
<polyline points="1356.5,1640.4 1366.5,1630.4 1381.4,1651.6 1398.8,1675.2 1412.4,1634.2 1426.1,1626.7 1441.0,1629.2 1453.4,1628.0 1467.1,1637.9 1480.7,1676.4 1495.7,1657.8 1509.3,1660.2 1523.0,1660.2 1537.9,1688.8 1551.6,1722.4 1565.2,1688.8 1578.9,1700.0" fill="none" stroke="#FF0000" stroke-width="10" stroke-linejoin="miter" stroke-miterlimit="3"/>
<polyline points="1545.3,1665.2 1560.2,1677.6 1575.2,1688.8 1586.3,1646.6 1600.0,1634.0 1614.5,1637.0 1629.6,1610.4 1643.8,1610.4 1671.0,1667.2 1687.5,1663.6 1700.5,1648.2 1720.6,1590.3 1728.9,1590.3 1756.1,1726.3 1770.3,1684.9 1784.5,1671.9" fill="none" stroke="#00FF00" stroke-width="10" stroke-linejoin="miter" stroke-miterlimit="3"/>
<polyline points="1784.5,1674.3 1802.2,1671.9 1818.8,1531.2 1835.3,1638.8 1854.3,1664.8 1870.8,1616.3 1908.7,1621.0 1927.6,1738.1 1943.0,1654.2 1963.1,1680.2 1982.0,1648.2 1999.7,1734.0" fill="none" stroke="#00FFFF" stroke-width="10" stroke-linejoin="miter" stroke-miterlimit="3"/>
</g>
<rect x="163" y="11" width="1889.80" height="8.70" fill="#000"/>
<rect x="158" y="15" width="9.00" height="1890.00" fill="#000"/>
<rect x="2047.7" y="11" width="5.10" height="1899.00" fill="#000"/>
<rect x="158" y="1428" width="1894.80" height="9.00" fill="#000"/>
<rect x="162.7" y="1900.5" width="1890.10" height="9.30" fill="#000"/>
<rect x="167" y="235.25" width="33.00" height="9.50" fill="#000"/>
<rect x="2014" y="235.25" width="33.70" height="9.50" fill="#000"/>
<rect x="167" y="460.25" width="33.00" height="9.50" fill="#000"/>
<rect x="2014" y="460.25" width="33.70" height="9.50" fill="#000"/>
<rect x="167" y="685.25" width="33.00" height="9.50" fill="#000"/>
<rect x="2014" y="685.25" width="33.70" height="9.50" fill="#000"/>
<rect x="167" y="910.25" width="33.00" height="9.50" fill="#000"/>
<rect x="2014" y="910.25" width="33.70" height="9.50" fill="#000"/>
<rect x="167" y="1135.25" width="33.00" height="9.50" fill="#000"/>
<rect x="2014" y="1135.25" width="33.70" height="9.50" fill="#000"/>
<rect x="167" y="1360.25" width="33.00" height="9.50" fill="#000"/>
<rect x="2014" y="1360.25" width="33.70" height="9.50" fill="#000"/>
<rect x="167" y="1545.25" width="33.00" height="9.50" fill="#000"/>
<rect x="2014" y="1545.25" width="33.70" height="9.50" fill="#000"/>
<rect x="167" y="1663.75" width="33.00" height="9.50" fill="#000"/>
<rect x="2014" y="1663.75" width="33.70" height="9.50" fill="#000"/>
<rect x="167" y="1781.85" width="33.00" height="9.50" fill="#000"/>
<rect x="2014" y="1781.85" width="33.70" height="9.50" fill="#000"/>
<rect x="367.75" y="19.7" width="9.50" height="9.30" fill="#000"/>
<rect x="367.75" y="1418" width="9.50" height="10.00" fill="#000"/>
<rect x="577.75" y="19.7" width="9.50" height="23.30" fill="#000"/>
<rect x="577.75" y="1405" width="9.50" height="23.00" fill="#000"/>
<rect x="577.75" y="1437" width="9.50" height="4.50" fill="#000"/>
<rect x="577.75" y="1895" width="9.50" height="6.00" fill="#000"/>
<rect x="787.75" y="19.7" width="9.50" height="9.30" fill="#000"/>
<rect x="787.75" y="1418" width="9.50" height="10.00" fill="#000"/>
<rect x="997.75" y="19.7" width="9.50" height="23.30" fill="#000"/>
<rect x="997.75" y="1405" width="9.50" height="23.00" fill="#000"/>
<rect x="997.75" y="1437" width="9.50" height="4.50" fill="#000"/>
<rect x="997.75" y="1895" width="9.50" height="6.00" fill="#000"/>
<rect x="1207.75" y="19.7" width="9.50" height="9.30" fill="#000"/>
<rect x="1207.75" y="1418" width="9.50" height="10.00" fill="#000"/>
<rect x="1417.75" y="19.7" width="9.50" height="23.30" fill="#000"/>
<rect x="1417.75" y="1405" width="9.50" height="23.00" fill="#000"/>
<rect x="1417.75" y="1437" width="9.50" height="4.50" fill="#000"/>
<rect x="1417.75" y="1895" width="9.50" height="6.00" fill="#000"/>
<rect x="1627.75" y="19.7" width="9.50" height="9.30" fill="#000"/>
<rect x="1627.75" y="1418" width="9.50" height="10.00" fill="#000"/>
<rect x="1837.75" y="19.7" width="9.50" height="23.30" fill="#000"/>
<rect x="1837.75" y="1405" width="9.50" height="23.00" fill="#000"/>
<rect x="1837.75" y="1437" width="9.50" height="4.50" fill="#000"/>
<rect x="1837.75" y="1895" width="9.50" height="6.00" fill="#000"/>
<g font-family="'DejaVu Serif', serif" style="font-kerning:none">
<text transform="translate(83.32,45.00) scale(0.8,1)" font-size="50" fill="#000" >10</text>
<text transform="translate(133.88,23.50) scale(0.8,1)" font-size="31.3" fill="#000" >7</text>
<text transform="translate(83.32,257.00) scale(0.8,1)" font-size="50" fill="#000" >10</text>
<text transform="translate(133.65,235.50) scale(0.8,1)" font-size="31.3" fill="#000" >6</text>
<text transform="translate(83.32,482.00) scale(0.8,1)" font-size="50" fill="#000" >10</text>
<text transform="translate(134.00,460.50) scale(0.8,1)" font-size="31.3" fill="#000" >5</text>
<text transform="translate(83.32,707.00) scale(0.8,1)" font-size="50" fill="#000" >10</text>
<text transform="translate(133.33,685.50) scale(0.8,1)" font-size="31.3" fill="#000" >4</text>
<text transform="translate(83.32,932.00) scale(0.8,1)" font-size="50" fill="#000" >10</text>
<text transform="translate(133.93,910.50) scale(0.8,1)" font-size="31.3" fill="#000" >3</text>
<text transform="translate(83.32,1157.00) scale(0.8,1)" font-size="50" fill="#000" >10</text>
<text transform="translate(134.53,1135.50) scale(0.8,1)" font-size="31.3" fill="#000" >2</text>
<text transform="translate(83.32,1382.00) scale(0.8,1)" font-size="50" fill="#000" >10</text>
<text transform="translate(135.63,1360.50) scale(0.8,1)" font-size="31.3" fill="#000" >1</text>
<text transform="translate(85.90,1461.00) scale(0.8,1)" font-size="50" fill="#000" >1.4</text>
<text transform="translate(87.81,1567.20) scale(0.8,1)" font-size="50" fill="#000" >1.2</text>
<text transform="translate(86.54,1685.00) scale(0.8,1)" font-size="50" fill="#000" >1.0</text>
<text transform="translate(86.58,1803.60) scale(0.8,1)" font-size="50" fill="#000" >0.8</text>
<text transform="translate(86.41,1905.00) scale(0.8,1)" font-size="50" fill="#000" >0.6</text>
<text transform="translate(120.12,1966.70) scale(0.8,1)" font-size="50" fill="#000" >10</text>
<text transform="translate(167.57,1946.70) scale(0.8,1)" font-size="31.3" fill="#000" >−6</text>
<text transform="translate(540.42,1966.70) scale(0.8,1)" font-size="50" fill="#000" >10</text>
<text transform="translate(587.55,1946.70) scale(0.8,1)" font-size="31.3" fill="#000" >−4</text>
<text transform="translate(960.32,1966.70) scale(0.8,1)" font-size="50" fill="#000" >10</text>
<text transform="translate(1008.45,1946.70) scale(0.8,1)" font-size="31.3" fill="#000" >−2</text>
<text transform="translate(1388.92,1966.70) scale(0.8,1)" font-size="50" fill="#000" >10</text>
<text transform="translate(1440.03,1946.70) scale(0.8,1)" font-size="31.3" fill="#000" >0</text>
<text transform="translate(1809.62,1966.70) scale(0.8,1)" font-size="50" fill="#000" >10</text>
<text transform="translate(1859.23,1946.70) scale(0.8,1)" font-size="31.3" fill="#000" >2</text>
<text transform="translate(1904.35,133.11) scale(0.78,1)" font-size="99" fill="#000" >a</text>
<text transform="translate(1905.22,1551.30) scale(0.8,1)" font-size="99" fill="#000" >b</text>
<text transform="translate(236.66,744.50) scale(0.814,1)" font-size="61" fill="#000" >Level</text>
<text transform="translate(403.25,744.00) scale(0.814,1)" font-size="61" fill="#000" font-style="italic" >M</text>
<text transform="translate(451.35,758.10) scale(0.814,1)" font-size="39" fill="#000" >200</text>
<text transform="translate(507.00,744.00) scale(0.814,1)" font-size="61" fill="#000" >/</text>
<text transform="translate(523.75,744.00) scale(0.814,1)" font-size="61" fill="#000" font-style="italic" >M</text>
<text transform="translate(574.22,758.10) scale(0.814,1)" font-size="39" fill="#000" >sun</text>
<text transform="translate(249.05,845.40) scale(0.82,1)" font-size="65.2" fill="#F08080" >L8c</text>
<text transform="translate(414.76,845.40) scale(0.82,1)" font-size="65.2" fill="#F08080" >4x10</text>
<text transform="translate(544.64,817.00) scale(0.82,1)" font-size="37.5" fill="#F08080" >−4</text>
<text transform="translate(249.05,909.60) scale(0.82,1)" font-size="65.2" fill="#06A4F8" >L7c</text>
<text transform="translate(413.87,909.60) scale(0.82,1)" font-size="65.2" fill="#06A4F8" >2x10</text>
<text transform="translate(543.76,881.20) scale(0.82,1)" font-size="37.5" fill="#06A4F8" >−2</text>
<text transform="translate(249.05,974.50) scale(0.82,1)" font-size="65.2" fill="#808080" >L6</text>
<text transform="translate(399.97,974.50) scale(0.82,1)" font-size="65.2" fill="#808080" >1x10</text>
<text transform="translate(531.09,946.10) scale(0.82,1)" font-size="37.5" fill="#808080" >0</text>
<text transform="translate(249.05,1039.00) scale(0.82,1)" font-size="65.2" fill="#FDB900" >L5</text>
<text transform="translate(402.87,1039.00) scale(0.82,1)" font-size="65.2" fill="#FDB900" >2x10</text>
<text transform="translate(533.93,1010.60) scale(0.82,1)" font-size="37.5" fill="#FDB900" >2</text>
<text transform="translate(249.05,1104.40) scale(0.82,1)" font-size="65.2" fill="#000080" >L4</text>
<text transform="translate(402.43,1104.40) scale(0.82,1)" font-size="65.2" fill="#000080" >3x10</text>
<text transform="translate(534.63,1076.00) scale(0.82,1)" font-size="37.5" fill="#000080" >4</text>
<text transform="translate(249.05,1169.40) scale(0.82,1)" font-size="65.2" fill="#0000FF" >L3</text>
<text transform="translate(402.87,1169.40) scale(0.82,1)" font-size="65.2" fill="#0000FF" >2x10</text>
<text transform="translate(533.44,1141.00) scale(0.82,1)" font-size="37.5" fill="#0000FF" >7</text>
<text transform="translate(249.05,1233.60) scale(0.82,1)" font-size="65.2" fill="#FF0000" >L2</text>
<text transform="translate(402.87,1233.60) scale(0.82,1)" font-size="65.2" fill="#FF0000" >2x10</text>
<text transform="translate(532.27,1205.20) scale(0.82,1)" font-size="37.5" fill="#FF0000" >10</text>
<text transform="translate(249.05,1298.50) scale(0.82,1)" font-size="65.2" fill="#00FF00" >L1</text>
<text transform="translate(399.97,1298.50) scale(0.82,1)" font-size="65.2" fill="#00FF00" >1x10</text>
<text transform="translate(529.37,1270.10) scale(0.82,1)" font-size="37.5" fill="#00FF00" >13</text>
<text transform="translate(249.05,1363.00) scale(0.82,1)" font-size="65.2" fill="#00FFFF" >L0</text>
<text transform="translate(1026.03,2022.70) scale(0.8,1)" font-size="51" fill="#000" font-style="italic" >r</text>
<text transform="translate(1070.39,2022.70) scale(0.8,1)" font-size="51" fill="#000" >[ kpc ]</text>
<text transform="translate(47.70,1716.64) rotate(-90) scale(0.8037,1)" font-size="50.5">Ratio</text>
<text transform="translate(45.20,898.11) rotate(-90) scale(0.9306,1)" font-size="48">ρ</text>
<text transform="translate(45.20,846.56) rotate(-90) scale(0.9359,1)" font-size="48">[</text>
<text transform="translate(44.80,804.39) rotate(-90) scale(0.8244,1)" font-size="49" font-style="italic">M</text>
<text transform="translate(55.10,760.20) rotate(-90) scale(0.6679,1)" font-size="37.4">sun</text>
<text transform="translate(45.20,701.00) rotate(-90) scale(1.1130,1)" font-size="48">/</text>
<text transform="translate(45.20,671.15) rotate(-90) scale(0.8797,1)" font-size="49">M</text>
<text transform="translate(45.20,629.30) rotate(-90) scale(0.7941,1)" font-size="48">pc</text>
<text transform="translate(21.40,585.54) rotate(-90) scale(1.1321,1)" font-size="26">3</text>
<text transform="translate(45.20,553.07) rotate(-90) scale(0.9359,1)" font-size="48">]</text>
</g>
</svg></body></html>
